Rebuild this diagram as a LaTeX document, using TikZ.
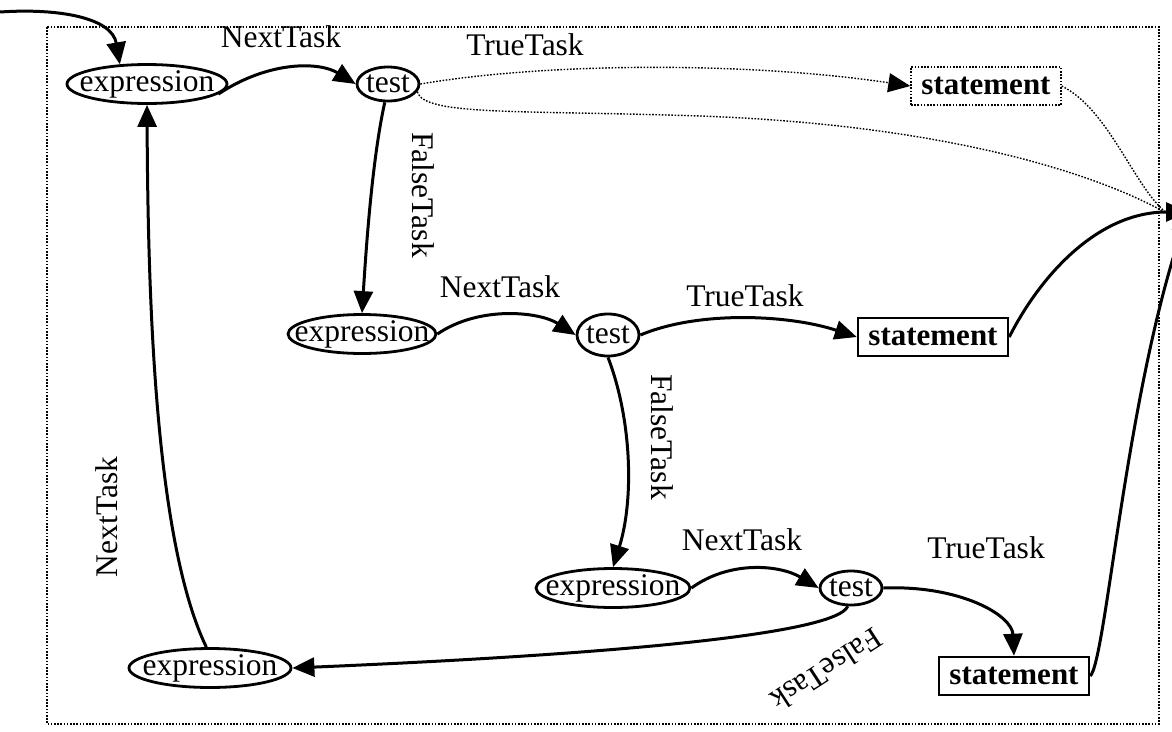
\documentclass[tikz,border=0pt]{standalone}
\usepackage{fontspec}
\setmainfont{Liberation Serif}
\usetikzlibrary{arrows.meta,shapes.geometric,calc}
\begin{document}
\begin{tikzpicture}[x=1pt,y=-1pt,
  every node/.style={font=\fontsize{31.5}{36}\selectfont},
  exprnode/.style={ellipse,draw,line width=2.8pt,inner sep=0pt,minimum width=#1,minimum height=36pt},
  testnode/.style={ellipse,draw,line width=2.8pt,inner sep=0pt,minimum width=62pt,minimum height=#1},
  stmtbox/.style={rectangle,draw,line width=2.5pt,inner sep=0pt,minimum width=150pt,minimum height=38pt,font=\fontsize{31}{36}\selectfont\bfseries},
  stmtdot/.style={stmtbox,line width=1.4pt,dash pattern=on 1.6pt off 1.6pt},
  lbl/.style={inner sep=0pt},
  flow/.style={line width=3pt,-{Triangle[length=22pt,width=19pt]}},
  ghost/.style={line width=1.4pt,dash pattern=on 1.6pt off 1.6pt},
  ghostarrow/.style={ghost,-{Triangle[length=22pt,width=19pt]}},
]
\useasboundingbox (0,0) rectangle (1172,731);

% dotted frame
\draw[ghost] (47,27) rectangle (1159,724);

% nodes
\node[exprnode=160pt] (e1) at (147,84) {\makebox[0pt]{expression}};
\node[testnode=34pt]  (t1) at (388,84) {\makebox[0pt]{test}};
\node[stmtdot]        (s1) at (986,86) {statement};

\node[exprnode=148pt] (e2) at (362,334) {\makebox[0pt]{expression}};
\node[testnode=42pt]  (t2) at (608,335) {\makebox[0pt]{test}};
\node[stmtbox]        (s2) at (933,337) {statement};

\node[exprnode=154pt] (e3) at (613,588) {\makebox[0pt]{expression}};
\node[testnode=34pt]  (t3) at (851,588) {\makebox[0pt]{test}};
\node[stmtbox]        (s3) at (1014,676) {statement};

\node[exprnode=162pt] (e4) at (210,668) {\makebox[0pt]{expression}};

% entry and exit points
\coordinate (entry) at (0,12);
\coordinate (sink) at (1188,212);
\coordinate (sinkd) at (1168,214);

% labels
\node[lbl] (n1) at (281,37) {NextTask};
\node[lbl] (tt1) at (525,45) {TrueTask};
\node[lbl,rotate=-90] (f1) at (423,195) {FalseTask};
\node[lbl] (n2) at (500,287) {NextTask};
\node[lbl] (tt2) at (745,296) {TrueTask};
\node[lbl,rotate=-90] (f2) at (662,437) {FalseTask};
\node[lbl] (n3) at (742,540) {NextTask};
\node[lbl] (tt3) at (986,548) {TrueTask};
\node[lbl,rotate=213] (f3) at (827,670) {FalseTask};
\node[lbl,rotate=90] (n4) at (107,517) {NextTask};

% solid connectors
\draw[flow] (entry) .. controls (60,8) and (112,18) .. (e1.144);
\draw[flow] (e1.-8) .. controls (270,60) and (320,62) .. (t1.west);
\draw[flow] (t1.-100) .. controls (372,160) and (366,250) .. (e2.north);
\draw[flow] (e2.east) .. controls (480,305) and (540,312) .. (t2.west);
\draw[flow] (t2.east) .. controls (700,310) and (790,315) .. (s2.west);
\draw[flow] (s2.east) .. controls (1038,280) and (1095,212) .. (sink);
\draw[flow] (t2.south) .. controls (632,420) and (634,500) .. (e3.north);
\draw[flow] (e3.east) .. controls (730,560) and (780,565) .. (t3.west);
\draw[flow] (t3.east) .. controls (960,585) and (1012,615) .. (s3.north);
\draw[flow] (s3.east) .. controls (1106,660) and (1125,400) .. (sink);
\draw[flow] (t3.-100) .. controls (835,635) and (600,655) .. (e4.east);
\draw[flow] (e4.100) .. controls (155,540) and (148,300) .. (e1.south);

% dotted connectors
\draw[ghostarrow] (t1.east) .. controls (550,62) and (750,62) .. (s1.west);
\draw[ghost] (t1.-15) .. controls (424,116) and (520,110) .. (700,116)
  .. controls (950,125) and (1100,175) .. (sinkd);
\draw[ghost] (s1.east) .. controls (1110,110) and (1135,190) .. (sinkd);
\end{tikzpicture}
\end{document}
